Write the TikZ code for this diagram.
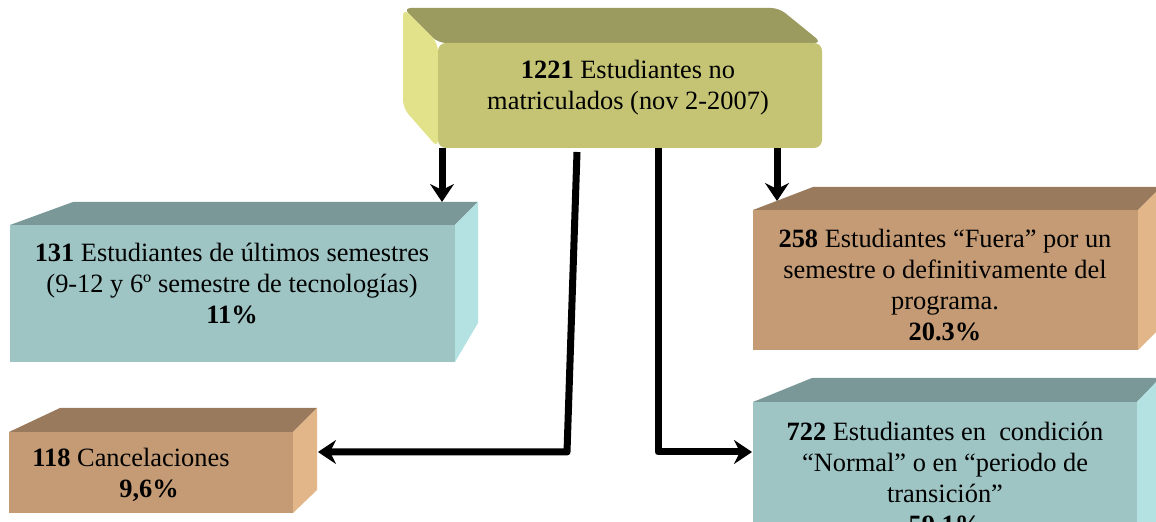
\documentclass[tikz,border=0pt]{standalone}
\usepackage{fontspec}
\setmainfont{Liberation Serif}
\usetikzlibrary{arrows.meta}
\definecolor{olivefront}{HTML}{C4C474}
\definecolor{olivetop}{HTML}{9B9A5F}
\definecolor{oliveside}{HTML}{E2E28A}
\definecolor{tealfront}{HTML}{9EC4C4}
\definecolor{tealtop}{HTML}{7A9898}
\definecolor{tealside}{HTML}{B4E2E2}
\definecolor{brownfront}{HTML}{C49B74}
\definecolor{browntop}{HTML}{9A7A5C}
\definecolor{brownside}{HTML}{E2B688}

\begin{document}
\begin{tikzpicture}[x=0.5pt,y=-0.5pt,
    label/.style={align=center,inner sep=0pt,font=\fontsize{13.2}{15.5}\selectfont},
    arr/.style={line width=3.5pt,line join=round,-{Stealth[length=9pt,width=12pt,inset=3pt]}}]
    \clip (0,0) rectangle (1156,522);

    % top box
    \fill[olivetop,rounded corners=4pt] (438,43) -- (403,8) -- (779,8) -- (822,43) -- cycle;
    \fill[oliveside,rounded corners=4pt] (438,43) -- (403,8) -- (403,108) -- (438,148) -- cycle;
    \fill[olivefront,rounded corners=4pt] (438,43) rectangle (822,148);
    \node[label] (total) at (628,88) {\textbf{1221} Estudiantes no\\matriculados (nov 2-2007)};
    \coordinate (topbase) at (628,148);

    % 131
    \fill[tealtop] (10,225) -- (73,202) -- (478,202) -- (455,225) -- cycle;
    \fill[tealside] (455,225) -- (478,202) -- (478,323) -- (455,362) -- cycle;
    \fill[tealfront] (10,225) rectangle (455,362);
    \node[label] (ultimos) at (232,284) {\textbf{131} Estudiantes de últimos semestres\\(9-12 y 6º semestre de tecnologías)\\\textbf{11\%}};
    \coordinate (in131) at (442,202);

    % 258
    \fill[browntop] (753,210) -- (813,187) -- (1161,187) -- (1138,210) -- cycle;
    \fill[brownside] (1138,210) -- (1161,187) -- (1161,327) -- (1138,350) -- cycle;
    \fill[brownfront] (753,210) rectangle (1138,350);
    \node[label] (fuera) at (945,285) {\textbf{258} Estudiantes “Fuera” por un\\semestre o definitivamente del\\programa.\\\textbf{20.3\%}};
    \coordinate (in258) at (777,201);

    % 118
    \fill[browntop] (9,432) -- (60,408) -- (317,408) -- (293,432) -- cycle;
    \fill[brownside] (293,432) -- (317,408) -- (317,490) -- (293,513) -- cycle;
    \fill[brownfront] (9,432) rectangle (293,513);
    \node[label] (cancel) at (149,475) {\textbf{118} Cancelaciones\hspace*{18pt}\\\textbf{9,6\%}};
    \coordinate (in118) at (318,452);

    % 722
    \fill[tealtop] (753,402) -- (812,378) -- (1160,378) -- (1137,402) -- cycle;
    \fill[tealside] (1137,402) -- (1160,378) -- (1160,532) -- (1137,555) -- cycle;
    \fill[tealfront] (753,402) rectangle (1137,555);
    \node[label] (normal) at (945,478) {\textbf{722} Estudiantes en\ \ condición\\“Normal” o en “periodo de\\transición”\\\textbf{59.1\%}};
    \coordinate (in722) at (752,452);

    % connectors
    \coordinate (out3) at (577,152);
    \coordinate (bend3) at (567,452);
    \coordinate (bend4) at (658,452);
    \draw[arr] (topbase -| in131) -- (in131);
    \draw[arr] (topbase -| in258) -- (in258);
    \draw[arr] (out3) -- (bend3) -- (in118);
    \draw[arr] (topbase -| bend4) -- (bend4) -- (in722);
\end{tikzpicture}
\end{document}
